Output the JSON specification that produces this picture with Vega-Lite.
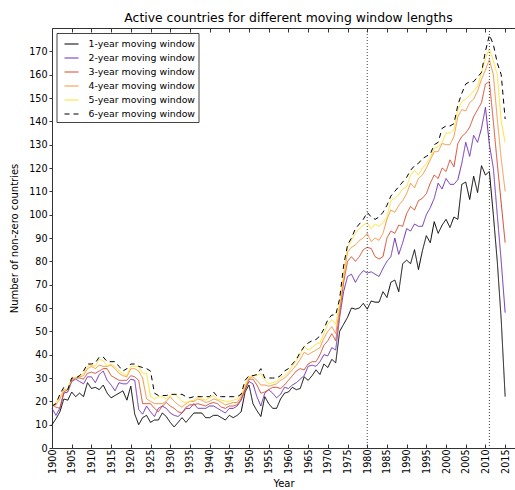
{
 "$schema": "https://vega.github.io/schema/vega-lite/v6.json",
 "width": 463,
 "height": 420,
 "autosize": {"type": "none"},
 "padding": {"left": 52, "top": 28, "right": 0, "bottom": 42},
 "background": "white",
 "config": {
  "font": "DejaVu Sans",
  "view": {"stroke": null},
  "axis": {"labelFont": "DejaVu Sans", "labelFontSize": 9.6, "labelColor": "#000", "titleFont": "DejaVu Sans", "titleFontSize": 10, "titleFontWeight": "normal", "titleColor": "#000", "domainColor": "#333", "tickColor": "#333", "grid": false}
 },
 "title": {"text": "Active countries for different moving window lengths", "fontSize": 12.4, "fontWeight": "normal", "font": "DejaVu Sans", "color": "#000", "anchor": "middle", "frame": "group", "dx": 5, "offset": 3},
 "layer": [
  {
   "data": {"values": [
{"year":1900,"w1":10,"w2":17,"w3":18.5,"w4":18,"w5":18,"w6":18},
{"year":1901,"w1":12.5,"w2":14,"w3":17.5,"w4":18.5,"w5":19.5,"w6":19},
{"year":1902,"w1":15.5,"w2":17,"w3":17,"w4":21,"w5":22,"w6":23},
{"year":1903,"w1":21,"w2":23.5,"w3":24,"w4":25,"w5":24.5,"w6":26},
{"year":1904,"w1":20.5,"w2":24,"w3":25,"w4":25,"w5":25.5,"w6":25},
{"year":1905,"w1":24,"w2":28.5,"w3":29,"w4":30,"w5":30,"w6":30},
{"year":1906,"w1":22,"w2":29.5,"w3":30,"w4":30,"w5":30,"w6":30},
{"year":1907,"w1":23.5,"w2":28.5,"w3":30,"w4":30.5,"w5":31,"w6":31},
{"year":1908,"w1":22,"w2":27.5,"w3":29.5,"w4":31,"w5":32,"w6":33},
{"year":1909,"w1":28,"w2":30.5,"w3":32,"w4":34,"w5":35,"w6":36},
{"year":1910,"w1":25.5,"w2":30.5,"w3":32.5,"w4":35,"w5":35.5,"w6":36},
{"year":1911,"w1":26,"w2":28,"w3":32,"w4":34,"w5":35,"w6":36.5},
{"year":1912,"w1":25,"w2":31.5,"w3":33,"w4":35.5,"w5":38,"w6":39},
{"year":1913,"w1":27,"w2":33,"w3":34,"w4":35,"w5":37.5,"w6":39},
{"year":1914,"w1":23.5,"w2":29,"w3":34,"w4":35,"w5":35,"w6":37},
{"year":1915,"w1":21.5,"w2":27,"w3":31,"w4":35.5,"w5":36,"w6":37},
{"year":1916,"w1":22.5,"w2":24.5,"w3":30,"w4":34,"w5":35,"w6":37},
{"year":1917,"w1":23.5,"w2":28,"w3":29,"w4":32,"w5":33,"w6":35},
{"year":1918,"w1":24.5,"w2":27.5,"w3":29,"w4":31,"w5":32,"w6":33},
{"year":1919,"w1":20.5,"w2":27.5,"w3":29,"w4":30.5,"w5":31,"w6":34},
{"year":1920,"w1":26.5,"w2":29.5,"w3":31,"w4":34,"w5":35,"w6":36},
{"year":1921,"w1":14.5,"w2":29,"w3":30.5,"w4":34,"w5":35,"w6":36},
{"year":1922,"w1":10,"w2":16.5,"w3":29,"w4":33,"w5":35,"w6":35},
{"year":1923,"w1":13,"w2":14.5,"w3":19,"w4":30,"w5":32,"w6":34.5},
{"year":1924,"w1":14,"w2":18,"w3":19,"w4":21,"w5":32,"w6":34},
{"year":1925,"w1":11,"w2":15.5,"w3":19,"w4":20,"w5":22,"w6":33},
{"year":1926,"w1":12,"w2":13.5,"w3":17,"w4":19,"w5":21,"w6":23.5},
{"year":1927,"w1":12,"w2":17,"w3":15.5,"w4":19,"w5":22,"w6":22.5},
{"year":1928,"w1":15,"w2":18,"w3":18,"w4":19,"w5":22,"w6":22.5},
{"year":1929,"w1":13.5,"w2":17,"w3":19.5,"w4":20,"w5":21,"w6":22.5},
{"year":1930,"w1":11,"w2":15,"w3":18,"w4":22,"w5":22.5,"w6":23},
{"year":1931,"w1":9,"w2":14,"w3":17,"w4":20,"w5":23,"w6":23},
{"year":1932,"w1":11,"w2":13.5,"w3":15.5,"w4":18.5,"w5":22,"w6":23},
{"year":1933,"w1":13,"w2":15,"w3":15,"w4":17.5,"w5":20,"w6":23},
{"year":1934,"w1":11,"w2":17,"w3":17.5,"w4":19,"w5":19.5,"w6":22},
{"year":1935,"w1":13,"w2":17,"w3":18.5,"w4":20,"w5":20,"w6":21.5},
{"year":1936,"w1":15,"w2":19,"w3":18.5,"w4":20,"w5":20.5,"w6":22},
{"year":1937,"w1":15,"w2":17,"w3":19,"w4":21,"w5":22,"w6":22},
{"year":1938,"w1":15,"w2":17,"w3":18.5,"w4":20.5,"w5":21,"w6":22},
{"year":1939,"w1":13,"w2":17,"w3":18,"w4":19.5,"w5":20.5,"w6":22},
{"year":1940,"w1":13,"w2":18,"w3":19,"w4":20,"w5":21.5,"w6":22},
{"year":1941,"w1":14,"w2":18,"w3":19.5,"w4":21,"w5":22.5,"w6":24},
{"year":1942,"w1":14,"w2":17,"w3":19,"w4":20.5,"w5":21,"w6":22},
{"year":1943,"w1":13,"w2":16,"w3":17.5,"w4":19.5,"w5":20.5,"w6":22},
{"year":1944,"w1":12,"w2":15,"w3":17,"w4":18.5,"w5":20,"w6":22},
{"year":1945,"w1":14,"w2":17,"w3":18,"w4":19,"w5":20,"w6":22},
{"year":1946,"w1":13,"w2":17,"w3":18,"w4":19.5,"w5":20.5,"w6":22},
{"year":1947,"w1":14,"w2":18,"w3":18.5,"w4":19.5,"w5":21,"w6":22},
{"year":1948,"w1":15.5,"w2":20.5,"w3":21,"w4":22,"w5":22.5,"w6":23},
{"year":1949,"w1":24,"w2":25,"w3":25,"w4":26,"w5":27,"w6":29},
{"year":1950,"w1":27,"w2":28.5,"w3":29.5,"w4":30,"w5":30.5,"w6":31},
{"year":1951,"w1":19,"w2":27.5,"w3":29.5,"w4":30.5,"w5":31,"w6":31},
{"year":1952,"w1":16,"w2":22,"w3":27,"w4":29,"w5":31,"w6":31.5},
{"year":1953,"w1":13.5,"w2":18,"w3":23.5,"w4":27,"w5":32,"w6":34},
{"year":1954,"w1":22,"w2":23.5,"w3":24,"w4":27,"w5":29,"w6":30},
{"year":1955,"w1":19,"w2":25,"w3":25,"w4":26.5,"w5":27.5,"w6":30},
{"year":1956,"w1":17,"w2":23.5,"w3":26,"w4":27,"w5":28,"w6":30},
{"year":1957,"w1":17,"w2":21.5,"w3":26,"w4":27.5,"w5":28.5,"w6":30},
{"year":1958,"w1":21,"w2":23,"w3":25.5,"w4":29,"w5":30,"w6":31},
{"year":1959,"w1":23.5,"w2":26,"w3":27,"w4":30,"w5":31,"w6":33},
{"year":1960,"w1":24,"w2":25.5,"w3":29,"w4":31.5,"w5":32.5,"w6":34},
{"year":1961,"w1":26,"w2":27,"w3":31,"w4":33.5,"w5":35,"w6":36},
{"year":1962,"w1":25,"w2":28,"w3":33,"w4":35.5,"w5":37.5,"w6":38},
{"year":1963,"w1":25.5,"w2":29.5,"w3":34,"w4":38,"w5":40,"w6":41},
{"year":1964,"w1":30.5,"w2":31,"w3":33.5,"w4":41,"w5":43.5,"w6":43.5},
{"year":1965,"w1":29,"w2":35,"w3":36,"w4":40,"w5":42,"w6":45},
{"year":1966,"w1":31,"w2":35.5,"w3":37,"w4":41,"w5":43,"w6":46},
{"year":1967,"w1":33.5,"w2":35,"w3":37,"w4":42,"w5":44.5,"w6":46.5},
{"year":1968,"w1":31.5,"w2":37,"w3":40,"w4":43,"w5":45,"w6":48},
{"year":1969,"w1":36,"w2":40,"w3":44,"w4":47,"w5":49,"w6":51},
{"year":1970,"w1":34.5,"w2":39.5,"w3":46,"w4":50,"w5":53,"w6":55},
{"year":1971,"w1":38,"w2":43,"w3":49,"w4":52,"w5":55,"w6":57},
{"year":1972,"w1":36.5,"w2":42,"w3":46,"w4":49,"w5":53,"w6":57},
{"year":1973,"w1":50,"w2":56,"w3":58,"w4":60,"w5":62,"w6":64},
{"year":1974,"w1":53,"w2":67,"w3":71,"w4":73,"w5":75,"w6":78},
{"year":1975,"w1":56,"w2":73.5,"w3":80,"w4":84,"w5":86,"w6":87},
{"year":1976,"w1":60,"w2":74.5,"w3":82,"w4":86,"w5":89,"w6":90},
{"year":1977,"w1":59.5,"w2":71,"w3":80,"w4":87,"w5":92,"w6":94},
{"year":1978,"w1":60,"w2":74,"w3":82,"w4":89,"w5":94,"w6":96},
{"year":1979,"w1":62,"w2":76,"w3":85,"w4":90,"w5":95.5,"w6":98},
{"year":1980,"w1":59.5,"w2":75,"w3":86,"w4":92,"w5":96.5,"w6":101},
{"year":1981,"w1":63,"w2":75.5,"w3":85.5,"w4":88.5,"w5":94,"w6":99},
{"year":1982,"w1":62.5,"w2":74.5,"w3":82,"w4":90,"w5":96,"w6":98},
{"year":1983,"w1":62.5,"w2":73.5,"w3":81,"w4":89,"w5":95,"w6":99},
{"year":1984,"w1":67,"w2":77,"w3":82,"w4":92,"w5":96.5,"w6":101},
{"year":1985,"w1":64.5,"w2":80,"w3":90,"w4":98,"w5":99,"w6":104},
{"year":1986,"w1":71,"w2":82,"w3":93,"w4":102,"w5":106,"w6":108},
{"year":1987,"w1":72,"w2":90,"w3":92,"w4":101,"w5":107,"w6":110},
{"year":1988,"w1":67,"w2":83,"w3":95.5,"w4":104,"w5":108.5,"w6":112},
{"year":1989,"w1":79,"w2":88,"w3":95,"w4":106,"w5":111,"w6":114},
{"year":1990,"w1":80.5,"w2":94,"w3":100.5,"w4":109,"w5":112,"w6":116},
{"year":1991,"w1":79,"w2":93,"w3":103.5,"w4":113.5,"w5":117,"w6":119},
{"year":1992,"w1":85,"w2":96,"w3":102,"w4":111.5,"w5":119,"w6":121},
{"year":1993,"w1":76.5,"w2":95,"w3":106,"w4":115.5,"w5":117,"w6":122},
{"year":1994,"w1":84.5,"w2":95,"w3":107,"w4":117,"w5":120,"w6":124},
{"year":1995,"w1":91,"w2":100,"w3":109,"w4":120,"w5":122,"w6":125},
{"year":1996,"w1":88,"w2":103,"w3":113.5,"w4":123.5,"w5":124.5,"w6":126},
{"year":1997,"w1":97,"w2":107,"w3":117,"w4":127,"w5":128.5,"w6":130},
{"year":1998,"w1":92,"w2":113.5,"w3":115.5,"w4":127,"w5":129,"w6":131},
{"year":1999,"w1":95.5,"w2":111,"w3":120,"w4":130.5,"w5":131,"w6":137},
{"year":2000,"w1":98,"w2":115.5,"w3":118.5,"w4":130,"w5":135,"w6":138},
{"year":2001,"w1":94.5,"w2":113,"w3":123.5,"w4":130,"w5":135,"w6":138},
{"year":2002,"w1":99,"w2":113,"w3":120.5,"w4":133.5,"w5":136.5,"w6":139},
{"year":2003,"w1":98,"w2":115,"w3":130.5,"w4":142,"w5":145,"w6":147},
{"year":2004,"w1":113,"w2":122,"w3":133.5,"w4":145,"w5":148.5,"w6":152},
{"year":2005,"w1":114,"w2":131,"w3":135,"w4":144.5,"w5":149.5,"w6":156},
{"year":2006,"w1":106.5,"w2":125,"w3":137.5,"w4":148,"w5":151,"w6":157},
{"year":2007,"w1":116.5,"w2":134,"w3":142,"w4":149.5,"w5":153,"w6":157},
{"year":2008,"w1":109.5,"w2":131,"w3":145,"w4":153,"w5":155,"w6":159},
{"year":2009,"w1":121,"w2":137,"w3":148,"w4":158,"w5":161,"w6":161},
{"year":2010,"w1":117,"w2":146,"w3":156,"w4":162,"w5":167,"w6":170},
{"year":2011,"w1":118.5,"w2":130,"w3":157,"w4":166.5,"w5":171,"w6":177},
{"year":2012,"w1":100,"w2":120,"w3":140,"w4":160,"w5":166,"w6":173},
{"year":2013,"w1":80,"w2":100,"w3":122,"w4":141,"w5":160,"w6":165},
{"year":2014,"w1":55,"w2":80,"w3":105,"w4":124,"w5":140,"w6":160},
{"year":2015,"w1":22,"w2":58,"w3":88,"w4":110,"w5":131,"w6":141}
   ]},
   "transform": [{"fold": ["w1", "w2", "w3", "w4", "w5", "w6"], "as": ["window", "value"]}],
   "mark": {"type": "line", "strokeWidth": 1},
   "encoding": {
    "x": {"field": "year", "type": "quantitative",
     "scale": {"domain": [1900, 2017.5], "nice": false, "zero": false},
     "axis": {"orient": "bottom", "title": "Year", "values": [1900,1905,1910,1915,1920,1925,1930,1935,1940,1945,1950,1955,1960,1965,1970,1975,1980,1985,1990,1995,2000,2005,2010,2015], "format": "d", "labelAngle": 270, "tickSize": -4, "labelPadding": 5, "titlePadding": 5, "domain": true}},
    "y": {"field": "value", "type": "quantitative",
     "scale": {"domain": [0, 180], "nice": false},
     "axis": {"title": "Number of non-zero countries", "values": [0,10,20,30,40,50,60,70,80,90,100,110,120,130,140,150,160,170], "tickSize": 3, "labelPadding": 2, "titlePadding": 9, "domain": true}},
    "color": {"field": "window", "type": "nominal",
     "scale": {"domain": ["w1", "w2", "w3", "w4", "w5", "w6"], "range": ["#000000", "#6b2fb3", "#d9482b", "#f5943f", "#ffe22e", "#000000"]},
     "legend": {"title": null, "orient": "none", "legendX": 4.5, "legendY": 5, "symbolType": "stroke", "symbolSize": 196, "symbolStrokeWidth": 1.2, "labelFontSize": 9.4, "labelFont": "DejaVu Sans", "labelColor": "#000", "labelExpr": "substring(datum.value, 1) + '-year moving window'", "padding": 3, "rowPadding": 1, "symbolOffset": 4, "labelOffset": 9, "strokeColor": "#444", "fillColor": "white", "cornerRadius": 0}},
    "strokeDash": {"field": "window", "type": "nominal",
     "scale": {"domain": ["w1", "w2", "w3", "w4", "w5", "w6"], "range": [[1, 0], [1, 0], [1, 0], [1, 0], [1, 0], [5, 4]]},
     "legend": {"title": null, "orient": "none", "legendX": 4.5, "legendY": 5, "symbolType": "stroke", "symbolSize": 196, "symbolStrokeWidth": 1.2, "labelFontSize": 9.4, "labelFont": "DejaVu Sans", "labelColor": "#000", "labelExpr": "substring(datum.value, 1) + '-year moving window'", "padding": 3, "rowPadding": 1, "symbolOffset": 4, "labelOffset": 9, "strokeColor": "#444", "fillColor": "white", "cornerRadius": 0}}
   }
  },
  {
   "data": {"values": [{"year": 1980}, {"year": 2011}]},
   "mark": {"type": "rule", "strokeDash": [1, 2], "color": "#444", "strokeWidth": 1},
   "encoding": {
    "x": {"field": "year", "type": "quantitative",
     "axis": {"orient": "top", "title": null, "labels": false, "tickSize": -4, "domain": true, "values": [1900,1905,1910,1915,1920,1925,1930,1935,1940,1945,1950,1955,1960,1965,1970,1975,1980,1985,1990,1995,2000,2005,2010,2015]}}
   }
  }
 ],
 "resolve": {"axis": {"x": "independent"}}
}
